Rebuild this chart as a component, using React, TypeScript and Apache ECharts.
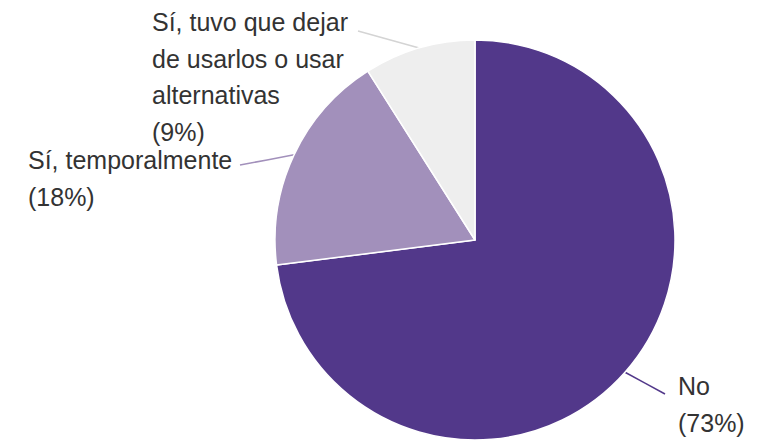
import React, { useEffect, useRef } from "react";
import * as echarts from "echarts";

const categories = [
  "No",
  "Sí, temporalmente",
  "Sí, tuvo que dejar de usarlos o usar alternativas",
];
const values = [73, 18, 9];
const colors = ["#52388a", "#a290bb", "#eeeeee"];
const lineColors = ["#52388a", "#a290bb", "#d4d4d4"];

// label placement (layout only)
const labelPos = [
  { x: 678, y: 368, end: [665, 394] },
  { x: 28, y: 142, end: [240, 165] },
  { x: 152, y: 4, end: [358, 31] },
];

function wrap(text: string, maxChars: number): string {
  const words = text.split(" ");
  const lines: string[] = [];
  let cur = "";
  for (const w of words) {
    const next = cur ? cur + " " + w : w;
    if (next.length > maxChars && cur) {
      lines.push(cur);
      cur = w;
    } else {
      cur = next;
    }
  }
  if (cur) lines.push(cur);
  return lines.join("\n");
}

export default function App() {
  const ref = useRef<HTMLDivElement>(null);
  useEffect(() => {
    document.body.style.margin = "0";
    if (!ref.current) return;
    const chart = echarts.init(ref.current, undefined, { renderer: "svg" });
    chart.setOption({
      animation: false,
      backgroundColor: "#ffffff",
      series: [
        {
          type: "pie",
          center: [475, 240],
          radius: 200,
          startAngle: 90,
          clockwise: true,
          avoidLabelOverlap: false,
          itemStyle: { borderColor: "#ffffff", borderWidth: 1.5 },
          label: {
            show: true,
            position: "outside",
            formatter: (p: any) => wrap(p.name, 18) + "\n(" + Math.round(p.percent) + "%)",
            fontFamily: "Liberation Sans, Arial, sans-serif",
            fontSize: 25,
            lineHeight: 36.5,
            color: "#333333",
          },
          labelLine: { show: true, length: 15, length2: 20, lineStyle: { width: 1.5 } },
          emphasis: { disabled: true },
          labelLayout: (params: any) => {
            const pos = labelPos[params.dataIndex];
            const p0 = params.labelLinePoints ? params.labelLinePoints[0] : null;
            const res: any = { x: pos.x, y: pos.y, align: "left", verticalAlign: "top" };
            if (p0) {
              const mid = [(p0[0] + pos.end[0]) / 2, (p0[1] + pos.end[1]) / 2];
              res.labelLinePoints = [p0, mid, pos.end];
            }
            return res;
          },
          data: categories.map((name, i) => ({
            name,
            value: values[i],
            itemStyle: { color: colors[i] },
            labelLine: { lineStyle: { color: lineColors[i], width: 1.5 } },
          })),
        },
      ],
    });
    return () => chart.dispose();
  }, []);
  return <div ref={ref} style={{ width: 758, height: 441 }} />;
}
